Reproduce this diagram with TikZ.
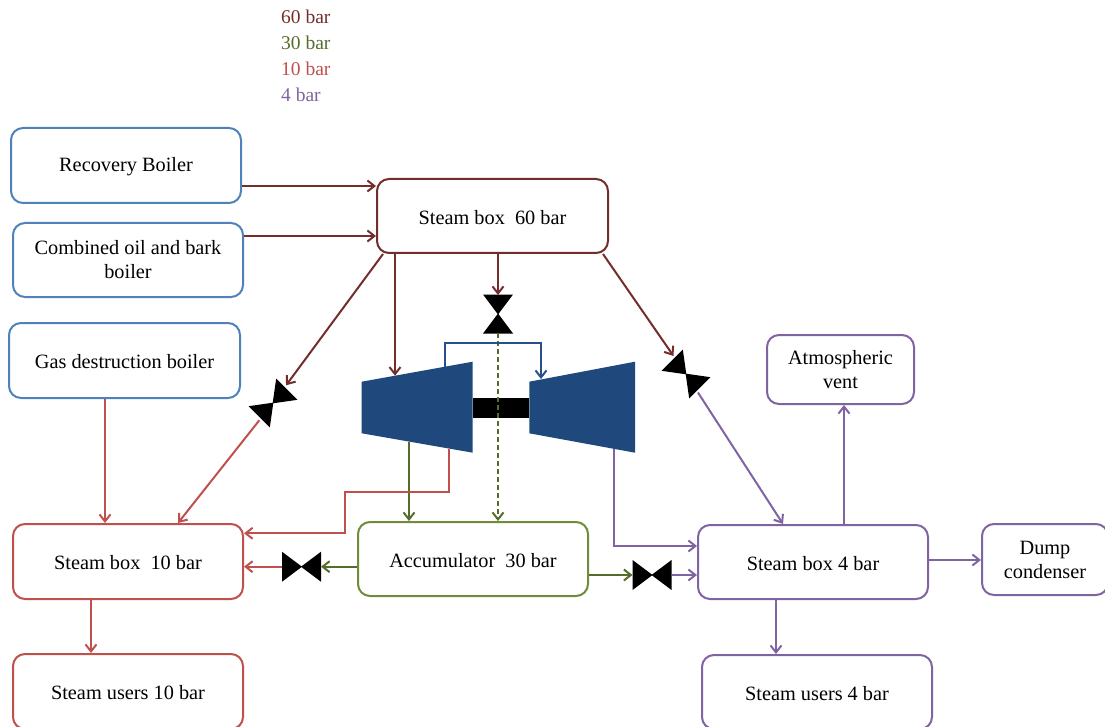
\documentclass[tikz,border=0pt]{standalone}
\usepackage{fontspec}
\setmainfont{Liberation Serif}
\usetikzlibrary{arrows.meta,calc}
\definecolor{bbox}{RGB}{79,129,189}
\definecolor{csix}{RGB}{115,46,44}
\definecolor{cthree}{RGB}{86,108,44}
\definecolor{cthreebox}{RGB}{112,140,58}
\definecolor{cten}{RGB}{192,80,77}
\definecolor{cfour}{RGB}{128,100,162}
\definecolor{turb}{RGB}{31,73,125}
\definecolor{bluearr}{RGB}{40,80,140}
\begin{document}
\begin{tikzpicture}[x=1pt,y=-1pt,
  blk/.style={draw=#1,line width=2pt,rounded corners=12pt,align=center,fill=white,inner sep=2pt,font=\fontsize{20.3}{24}\selectfont},
  oneline/.style={text height=17pt},
  conn/.style={draw=#1,line width=2pt,-{Straight Barb[length=7pt,width=11pt]}},
  valve/.pic={\fill[black] (-19.5,-15) -- (0.5,0) -- (-19.5,15) -- cycle; \fill[black] (19.5,-15) -- (-0.5,0) -- (19.5,15) -- cycle;},
  legtext/.style={anchor=west,font=\fontsize{19.5}{23}\selectfont,inner sep=0pt}]
\useasboundingbox (0,0) rectangle (1105,727);
% legend
\node[legtext,text=csix] (l60) at (281,17) {60 bar};
\node[legtext,text=cthree] (l30) at (281,43) {30 bar};
\node[legtext,text=cten] (l10) at (281,69) {10 bar};
\node[legtext,text=cfour] (l4) at (281,95) {4 bar};
% boxes
\node[blk=bbox,oneline,minimum width=230pt,minimum height=75pt] (rb) at (126,165.5) {Recovery Boiler};
\node[blk=bbox,minimum width=230pt,minimum height=74pt] (cob) at (128,260) {Combined oil and bark\\boiler};
\node[blk=bbox,oneline,minimum width=231pt,minimum height=75pt] (gdb) at (124.5,360.5) {Gas destruction boiler};
\node[blk=csix,oneline,minimum width=231pt,minimum height=74pt] (sb60) at (492.5,216) {Steam box\ \ 60 bar};
\node[blk=cten,oneline,minimum width=230pt,minimum height=75pt] (sb10) at (128,561.5) {Steam box\ \ 10 bar};
\node[blk=cten,oneline,minimum width=230pt,minimum height=75pt] (su10) at (128,691.5) {Steam users 10 bar};
\node[blk=cthreebox,oneline,minimum width=230pt,minimum height=74pt] (acc) at (473,559) {Accumulator\ \ 30 bar};
\node[blk=cfour,oneline,minimum width=230pt,minimum height=74pt] (sb4) at (813,562) {Steam box 4 bar};
\node[blk=cfour,minimum width=147pt,minimum height=69pt] (av) at (840.5,369.5) {Atmospheric\\vent};
\node[blk=cfour,minimum width=126pt,minimum height=71pt] (dc) at (1045,559.5) {Dump\\condenser};
\node[blk=cfour,oneline,minimum width=230pt,minimum height=74pt] (su4) at (817,692) {Steam users 4 bar};
% turbines and shaft
\fill[turb] (361.7,381.7) -- (472.7,361.7) -- (472.7,452.7) -- (361.7,433.3) -- cycle;
\fill[turb] (529.3,381.7) -- (635,361.7) -- (635,452.7) -- (529.3,433.3) -- cycle;
\fill[black] (472.7,398.3) rectangle (529.3,418.3);
\coordinate (hpin) at (395,375.7);
\coordinate (hpb) at (445,366.7);
\coordinate (lpb) at (541,379);
\coordinate (hpg) at (409,441.6);
\coordinate (hpr) at (449,448.6);
\coordinate (lpp) at (614,448.8);
% valves
\coordinate (vc) at (498,314);
\coordinate (vl) at (301.5,566.7);
\coordinate (vr) at (652,575);
\coordinate (vdl) at (273,403);
\coordinate (vdr) at (686,374);
\pic[rotate=90] at (vc) {valve};
\pic at (vl) {valve};
\pic at (vr) {valve};
\pic[rotate=45] at (vdl) {valve};
\pic[rotate=-45] at (vdr) {valve};
% connectors
\draw[conn=csix] (rb.east |- 0,186) -- (sb60.west |- 0,186);
\draw[conn=csix] (cob.east |- 0,236) -- (sb60.west |- 0,236);
\draw[conn=cten] (gdb.south -| 105,0) -- (sb10.north -| 105,0);
\draw[conn=cten] (sb10.south -| 91,0) -- (su10.north -| 91,0);
\draw[conn=csix] (sb60.south -| hpin) -- (hpin);
\draw[conn=csix] (sb60.south -| vc) -- ($(vc)+(0,-19)$);
\draw[conn=cthree,dash pattern=on 5pt off 3pt] ($(vc)+(0,19)$) -- (acc.north -| vc);
\draw[conn=bluearr] (hpb) -- (hpb |- 0,343.3) -| (lpb);
\draw[conn=cthree] (hpg) -- (acc.north -| hpg);
\draw[conn=cten] (hpr) |- (345,491.7) |- (sb10.east |- 0,533.3);
\draw[conn=cfour] (lpp) |- (sb4.west |- 0,546);
\draw[conn=cthree] (acc.west |- vl) -- ($(vl)+(19.5,0)$);
\draw[conn=cten] ($(vl)+(-19.5,0)$) -- (sb10.east |- vl);
\draw[conn=cthree] (acc.east |- vr) -- ($(vr)+(-19.5,0)$);
\draw[conn=cfour] ($(vr)+(19.5,0)$) -- (sb4.west |- vr);
\coordinate (s1) at ($(sb60.south west)+(7,0)$);
\coordinate (e1) at (sb10.north -| 178,0);
\draw[conn=csix] (s1) -- ($(vdl)!22pt!(s1)$);
\draw[conn=cten] ($(vdl)!22pt!(e1)$) -- (e1);
\coordinate (s2) at ($(sb60.south east)+(-6,0)$);
\coordinate (e2) at (sb4.north -| 783,0);
\draw[conn=csix] (s2) -- ($(vdr)!22pt!(s2)$);
\draw[conn=cfour] ($(vdr)!22pt!(e2)$) -- (e2);
\draw[conn=cfour] (sb4.north -| 844,0) -- (av.south -| 844,0);
\draw[conn=cfour] (sb4.east |- 0,560) -- (dc.west |- 0,560);
\draw[conn=cfour] (sb4.south -| 776,0) -- (su4.north -| 776,0);
\end{tikzpicture}
\end{document}
